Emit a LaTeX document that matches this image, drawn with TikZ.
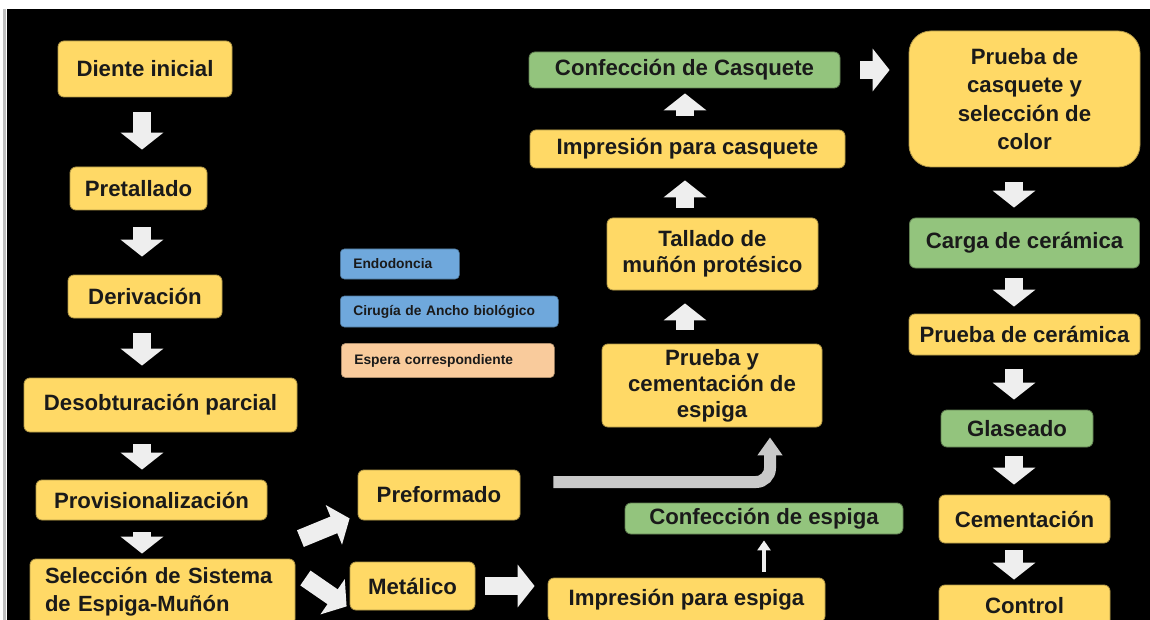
\documentclass[tikz,border=0pt]{standalone}
\usepackage{fontspec}
\setmainfont{Liberation Sans}
\usepackage{tikz}
\usetikzlibrary{arrows.meta}
\usetikzlibrary{positioning}
\definecolor{boxyellow}{HTML}{FFD966}
\definecolor{boxgreen}{HTML}{93C47D}
\definecolor{boxblue}{HTML}{6FA8DC}
\definecolor{boxorange}{HTML}{F9CB9C}
\definecolor{arrowc}{HTML}{EEEEEE}
\definecolor{connc}{HTML}{C9C9C9}
\definecolor{inkc}{HTML}{1A1A1A}
\tikzset{box/.style = {rounded corners = 6pt, line width = 0.8pt, text = inkc, inner sep = 0pt,
                       align = center, font = \fontsize{22.2}{26}\selectfont\bfseries}}
\tikzset{ybox/.style = {box, fill = boxyellow, draw = boxyellow!70!black}}
\tikzset{gbox/.style = {box, fill = boxgreen, draw = boxgreen!65!black}}
\tikzset{legbox/.style = {rounded corners = 4pt, line width = 0.6pt, text = inkc, anchor = west,
                          inner xsep = 13pt, inner ysep = 0pt, align = left,
                          font = \fontsize{13.8}{15}\selectfont\bfseries}}
\tikzset{blk/.style = {draw = arrowc, line width = 18pt, -{Triangle[width = 42pt, length = 17pt]}}}
\tikzset{thinarr/.style = {draw = arrowc, line width = 4pt, -{Triangle[width = 13pt, length = 10pt]}}}
\tikzset{grayarr/.style = {draw = connc, line width = 12pt, rounded corners = 14pt,
                           -{Triangle[width = 24pt, length = 18pt]}}}

\begin{document}
\begin{tikzpicture}[x = 1pt, y = -1pt]
      \useasboundingbox (0, 0) rectangle (1150, 620);
      \clip (0, 0) rectangle (1150, 620);
      \fill [white] (0, 0) rectangle (1150, 620);
      \fill [black] (7, 9) rectangle (1150, 620);
      \fill [black!25] (3, 9) rectangle (6, 620);

      \node (dien) at (145, 69) [ybox, minimum width = 174pt, minimum height = 56pt] {Diente inicial};
      \node (pret) at (138.5, 188.5) [ybox, minimum width = 137pt, minimum height = 43pt] {Pretallado};
      \node (deri) at (145, 296.5) [ybox, minimum width = 154pt, minimum height = 43pt] {Derivación};
      \node (deso) at (160.5, 405) [ybox, minimum width = 273pt, minimum height = 54pt] {Desobturación parcial};
      \node (prov) at (151.5, 500) [ybox, minimum width = 231pt, minimum height = 40pt] {Provisionalización};
      \node (sele) at (162.5, 592) [ybox, minimum height = 66pt, inner xsep = 15pt, text width = 235pt,
                                    align = left, font = \fontsize{22}{28}\selectfont\bfseries]
            {Selección de Sistema\\de Espiga-Muñón};

      \node (endo) at (340, 264) [legbox, fill = boxblue, draw = boxblue!70!black, minimum height = 30pt,
                                  text width = 93pt] {Endodoncia};
      \node (ciru) at (340, 311.5) [legbox, fill = boxblue, draw = boxblue!70!black, minimum height = 31pt,
                                    text width = 192pt] {Cirugía de Ancho biológico};
      \node (espe) at (341, 360.5) [legbox, fill = boxorange, draw = boxorange!70!black, minimum height = 34pt,
                                    text width = 187pt] {Espera correspondiente};

      \node (pref) at (439, 495) [ybox, minimum width = 162pt, minimum height = 50pt] {Preformado};
      \node (meta) at (412.5, 586) [ybox, minimum width = 125pt, minimum height = 48pt] {Metálico};
      \node (imes) at (686.5, 600) [ybox, minimum width = 277pt, minimum height = 44pt] {Impresión para espiga};
      \node (cesp) at (764, 518.5) [gbox, minimum width = 278pt, minimum height = 31pt] {Confección de espiga};
      \node (pcem) at (712, 385.5) [ybox, minimum width = 220pt, minimum height = 83pt] {Prueba y\\cementación de\\espiga};
      \node (tall) at (712.5, 254) [ybox, minimum width = 211pt, minimum height = 72pt] {Tallado de\\muñón protésico};
      \node (icas) at (687.5, 149) [ybox, minimum width = 315pt, minimum height = 38pt] {Impresión para casquete};
      \node (ccas) at (684.5, 70) [gbox, minimum width = 311pt, minimum height = 36pt] {Confección de Casquete};

      \node (pcas) at (1024.5, 99) [ybox, rounded corners = 22pt, minimum width = 231pt, minimum height = 136pt,
                                    font = \fontsize{22.2}{28.5}\selectfont\bfseries]
            {Prueba de\\casquete y\\selección de\\color};
      \node (carg) at (1024.5, 243) [gbox, minimum width = 230pt, minimum height = 50pt] {Carga de cerámica};
      \node (pcer) at (1024.5, 334.5) [ybox, minimum width = 231pt, minimum height = 41pt] {Prueba de cerámica};
      \node (glas) at (1017, 428.5) [gbox, minimum width = 152pt, minimum height = 37pt] {Glaseado};
      \node (ceme) at (1024.5, 519) [ybox, minimum width = 171pt, minimum height = 48pt] {Cementación};
      \node (cont) at (1024.5, 606) [ybox, minimum width = 171pt, minimum height = 42pt] {Control};

      \coordinate (lcol) at (142, 0);
      \coordinate (mcol) at (685, 0);
      \coordinate (rcol) at (1014, 0);

      \draw [blk, shorten <= 15pt, shorten >= 17pt] (dien.south -| lcol) -- (pret.north -| lcol);
      \draw [blk, shorten <= 17pt, shorten >= 18pt] (pret.south -| lcol) -- (deri.north -| lcol);
      \draw [blk, shorten <= 15pt, shorten >= 12pt] (deri.south -| lcol) -- (deso.north -| lcol);
      \draw [blk, shorten <= 12pt, shorten >= 10pt] (deso.south -| lcol) -- (prov.north -| lcol);
      \draw [blk, shorten <= 12pt, shorten >= 5pt] (prov.south -| lcol) -- (sele.north -| lcol);

      \draw [blk] ([xshift = 5pt, yshift = 20pt]sele.north east) -- ([xshift = -8pt, yshift = 2pt]pref.south west);
      \draw [blk] ([xshift = 10pt, yshift = 14pt]sele.east) -- ([xshift = -3pt, yshift = 4pt]meta.south west);
      \draw [blk, shorten <= 10pt, shorten >= 13pt] (meta.east) -- (meta.east -| imes.west);

      \draw [thinarr, shorten <= 6pt, shorten >= 6pt] (imes.north -| cesp.south) -- (cesp.south);
      \coordinate (pcfrom) at ([xshift = 33pt, yshift = 13pt]pref.east);
      \coordinate (pcto) at ([xshift = 58pt, yshift = -10pt]pcem.south);
      \draw [grayarr] (pcfrom) -| (pcto);

      \draw [blk, shorten <= 14pt, shorten >= 13pt] (pcem.north -| mcol) -- (tall.south -| mcol);
      \draw [blk, shorten <= 10pt, shorten >= 12pt] (tall.north -| mcol) -- (icas.south -| mcol);
      \draw [blk, shorten <= 14pt, shorten >= 5pt] (icas.north -| mcol) -- (ccas.south -| mcol);
      \draw [blk, shorten <= 20pt, shorten >= 19pt] (ccas.east) -- (ccas.east -| pcas.west);

      \draw [blk, shorten <= 15pt, shorten >= 10pt] (pcas.south -| rcol) -- (carg.north -| rcol);
      \draw [blk, shorten <= 10pt, shorten >= 7pt] (carg.south -| rcol) -- (pcer.north -| rcol);
      \draw [blk, shorten <= 14pt, shorten >= 10pt] (pcer.south -| rcol) -- (glas.north -| rcol);
      \draw [blk, shorten <= 9pt, shorten >= 10pt] (glas.south -| rcol) -- (ceme.north -| rcol);
      \draw [blk, shorten <= 7pt, shorten >= 5pt] (ceme.south -| rcol) -- (cont.north -| rcol);
    \end{tikzpicture}
\end{document}
